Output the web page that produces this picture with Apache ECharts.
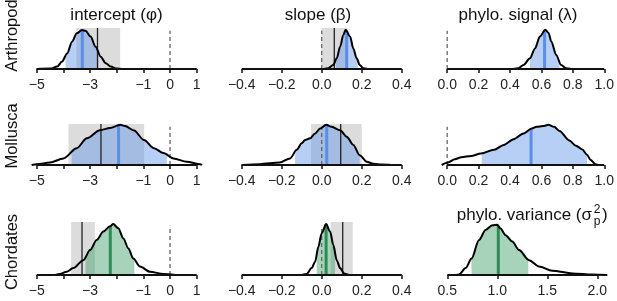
<!DOCTYPE html>
<html>
<head>
<meta charset="utf-8">
<script src="https://cdn.jsdelivr.net/npm/echarts@6/dist/echarts.min.js"></script>
<style>
html, body { margin: 0; padding: 0; background: #fff; }
#chart { width: 617px; height: 301px; }
</style>
</head>
<body>
<div id="chart"></div>
<script>
// rows / columns
var taxa = ['Arthropoda', 'Mollusca', 'Chordates'];
var paramTitles = ['intercept (φ)', 'slope (β)', 'phylo. signal (λ)'];

// posterior density curves (height relative to the top of each panel)
var arthInterceptX = [-5.0, -4.48, -4.23, -4.05, -3.86, -3.67, -3.5, -3.3, -3.17, -2.98, -2.79, -2.6, -2.41, -2.23, -2.0, -1.8];
var arthInterceptY = [0, 0.01, 0.06, 0.18, 0.38, 0.67, 0.87, 0.95, 0.93, 0.79, 0.54, 0.30, 0.14, 0.06, 0.01, 0];
var arthSlopeX = [0.01, 0.033, 0.058, 0.075, 0.092, 0.108, 0.12, 0.142, 0.158, 0.175, 0.19, 0.208, 0.23];
var arthSlopeY = [0, 0.02, 0.1, 0.26, 0.54, 0.83, 0.96, 0.79, 0.5, 0.26, 0.1, 0.02, 0];
var arthLambdaX = [0.42, 0.454, 0.486, 0.527, 0.559, 0.59, 0.625, 0.645, 0.663, 0.694, 0.725, 0.756, 0.79];
var arthLambdaY = [0, 0.02, 0.1, 0.26, 0.5, 0.79, 0.96, 0.88, 0.67, 0.34, 0.1, 0.02, 0];

var mollInterceptX = [-5.19, -5.0, -4.5, -4.0, -3.5, -3.12, -2.63, -2.25, -1.87, -1.69, -1.35, -0.98, -0.6, -0.25, 0.13, 0.63, 1.13, 1.2];
var mollInterceptY = [0, 0.02, 0.06, 0.16, 0.41, 0.65, 0.85, 0.9, 0.98, 0.95, 0.84, 0.61, 0.41, 0.29, 0.16, 0.08, 0.02, 0];
var mollSlopeX = [-0.4, -0.31, -0.21, -0.158, -0.125, -0.1, -0.083, -0.058, -0.033, -0.008, 0.022, 0.05, 0.092, 0.125, 0.158, 0.19, 0.225, 0.258, 0.3, 0.35];
var mollSlopeY = [0, 0.02, 0.06, 0.16, 0.37, 0.53, 0.61, 0.65, 0.77, 0.89, 0.98, 0.93, 0.85, 0.69, 0.49, 0.24, 0.08, 0.03, 0.01, 0];
var mollLambdaX = [-0.035, 0.006, 0.048, 0.09, 0.152, 0.215, 0.298, 0.36, 0.423, 0.486, 0.538, 0.569, 0.61, 0.645, 0.68, 0.715, 0.777, 0.82, 0.86, 0.89, 0.913, 0.944, 0.96];
var mollLambdaY = [0, 0.06, 0.14, 0.19, 0.22, 0.28, 0.37, 0.49, 0.63, 0.77, 0.89, 0.93, 0.95, 0.98, 0.93, 0.83, 0.6, 0.47, 0.38, 0.25, 0.12, 0.02, 0];

var chordInterceptX = [-4.3, -4.13, -3.88, -3.63, -3.25, -3.0, -2.75, -2.5, -2.25, -2.13, -1.94, -1.75, -1.56, -1.38, -1.13, -0.75, -0.25, 0.2];
var chordInterceptY = [0, 0.02, 0.06, 0.13, 0.28, 0.47, 0.66, 0.82, 0.92, 0.96, 0.88, 0.69, 0.5, 0.31, 0.16, 0.06, 0.02, 0];
var chordSlopeX = [-0.1, -0.075, -0.05, -0.033, -0.017, 0.0, 0.022, 0.042, 0.058, 0.075, 0.092, 0.112, 0.135];
var chordSlopeY = [0, 0.02, 0.13, 0.25, 0.53, 0.79, 0.96, 0.82, 0.57, 0.28, 0.13, 0.03, 0];
var chordVarianceX = [0.58, 0.617, 0.683, 0.743, 0.817, 0.883, 0.95, 1.0, 1.03, 1.083, 1.15, 1.217, 1.317, 1.417, 1.55, 1.75, 1.95, 2.1];
var chordVarianceY = [0, 0.01, 0.13, 0.31, 0.66, 0.85, 0.94, 0.95, 0.88, 0.75, 0.63, 0.47, 0.28, 0.16, 0.08, 0.03, 0.01, 0];

// panel summaries, row by row (null = not drawn)
var intervalLo = [-3.92, 0.07, 0.527, -3.69, -0.133, 0.22, -3.17, -0.025, 0.74];
var intervalHi = [-2.68, 0.18, 0.715, -0.12, 0.19, 0.89, -1.34, 0.067, 1.31];
var postMean   = [-3.29, 0.125, 0.62, -1.93, 0.025, 0.534, -2.24, 0.022, 1.01];
var bandLo     = [-3.51, -0.002, null, -3.81, -0.053, null, -3.71, 0.045, null];
var bandHi     = [-1.87, 0.128, null, -0.97, 0.2, null, -2.82, 0.155, null];
var otherEst   = [-2.72, 0.063, null, -2.59, 0.095, null, -3.3, 0.105, null];
var zeroLine   = [true, true, true, true, true, true, true, true, false];

// axis ticks / labels
var interceptTicks = [-5, -4, -3, -2, -1, 0, 1];
var interceptLabels = [-5, -3, -1, 0, 1];
var slopeTicks = [-0.4, -0.2, 0, 0.2, 0.4];
var lambdaTicks = [0, 0.2, 0.4, 0.6, 0.8, 1.0];
var varianceTicks = [0.5, 1.0, 1.5, 2.0];

var curvesX = [arthInterceptX, arthSlopeX, arthLambdaX, mollInterceptX, mollSlopeX, mollLambdaX, chordInterceptX, chordSlopeX, chordVarianceX];
var curvesY = [arthInterceptY, arthSlopeY, arthLambdaY, mollInterceptY, mollSlopeY, mollLambdaY, chordInterceptY, chordSlopeY, chordVarianceY];

var FONT = '"Liberation Sans", Arial, Helvetica, sans-serif';
var colLeft = [36.7, 241.7, 447.3];
var plotW = 160;
var rowTop = [28, 124, 222];
var rowH = [41, 41, 53];

function interpAt (xs, ys, x) {
  if (x <= xs[0]) return ys[0];
  for (var i = 1; i < xs.length; i++) {
    if (x <= xs[i]) {
      var t = (x - xs[i - 1]) / (xs[i] - xs[i - 1]);
      return ys[i - 1] + t * (ys[i] - ys[i - 1]);
    }
  }
  return ys[ys.length - 1];
}

function fmtNum (v, dec) {
  return v.toFixed(dec).replace('-', '\u2212');
}

function vline (grid, x, top, style, z) {
  return {
    type: 'line', xAxisIndex: grid, yAxisIndex: grid,
    data: [[x, 0], [x, top]], symbol: 'none', clip: false, silent: true,
    lineStyle: style, z: z
  };
}

function initChart () {
  var chart = echarts.init(document.getElementById('chart'), null, { renderer: 'canvas' });
  var grids = [], xAxes = [], yAxes = [], series = [];

  for (var i = 0; i < 9; i++) {
    var r = Math.floor(i / 3), c = i % 3;
    var lo, hi, ticks, labels, dec, axisEnd;
    if (c === 0) { lo = -5; hi = 1; ticks = interceptTicks; labels = interceptLabels; dec = 0; axisEnd = 1; }
    else if (c === 1) { lo = -0.4; hi = 0.4; ticks = slopeTicks; labels = slopeTicks; dec = 1; axisEnd = 0.4; }
    else if (r < 2) { lo = 0; hi = 1; ticks = lambdaTicks; labels = lambdaTicks; dec = 1; axisEnd = 1; }
    else { lo = 0.5; hi = 2.1; ticks = varianceTicks; labels = varianceTicks; dec = 1; axisEnd = 2.0; }
    var ext = 0.04 * (hi - lo);

    grids.push({ left: colLeft[c] - 0.04 * plotW, top: rowTop[r], width: plotW * 1.08, height: rowH[r] });
    xAxes.push({
      type: 'value', gridIndex: i, min: lo - ext, max: hi + ext,
      axisLine: { show: false },
      splitLine: { show: false },
      axisTick: { show: true, customValues: ticks, length: 4, lineStyle: { color: '#111', width: 1.5 } },
      axisLabel: {
        customValues: labels, margin: 9, fontSize: 14, color: '#222', fontFamily: FONT,
        formatter: (function (d) { return function (v) { return fmtNum(v, d); }; })(dec)
      }
    });
    yAxes.push({ type: 'value', gridIndex: i, min: 0, max: 1, show: false });

    var xs = curvesX[i], ys = curvesY[i];
    var green = r === 2;
    var lineCol = green ? '#2e8b57' : '#5b8ee6';
    var fillCol = green ? 'rgba(46,150,90,0.42)' : 'rgba(96,146,232,0.45)';

    // grey band of the other estimate
    if (bandLo[i] !== null) {
      series.push({
        type: 'line', xAxisIndex: i, yAxisIndex: i, symbol: 'none', silent: true, clip: false,
        data: [[bandLo[i], 1], [bandHi[i], 1]],
        lineStyle: { width: 0 }, areaStyle: { color: '#dcdcdc', opacity: 1 }, z: 1
      });
    }
    // credible interval fill
    var pts = [[intervalLo[i], interpAt(xs, ys, intervalLo[i])]];
    for (var k = 0; k < xs.length; k++) {
      if (xs[k] > intervalLo[i] && xs[k] < intervalHi[i]) pts.push([xs[k], ys[k]]);
    }
    pts.push([intervalHi[i], interpAt(xs, ys, intervalHi[i])]);
    series.push({
      type: 'line', xAxisIndex: i, yAxisIndex: i, symbol: 'none', silent: true, clip: false,
      data: pts, smooth: 0.3, smoothMonotone: 'x',
      lineStyle: { width: 0 }, areaStyle: { color: fillCol, opacity: 1 }, z: 2
    });
    if (zeroLine[i]) {
      series.push(vline(i, 0, 0.93, { color: '#666', width: 1.3, type: [4, 3] }, 3));
    }
    if (otherEst[i] !== null) {
      series.push(vline(i, otherEst[i], 1, { color: '#222', width: 1.3 }, 4));
    }
    series.push(vline(i, postMean[i], interpAt(xs, ys, postMean[i]), { color: lineCol, width: 3 }, 4));

    // density curve
    series.push({
      type: 'line', xAxisIndex: i, yAxisIndex: i, symbol: 'none', silent: true, clip: false,
      data: xs.map(function (x, k) { return [x, ys[k]]; }), smooth: 0.3, smoothMonotone: 'x',
      lineStyle: { color: '#000', width: 2 }, z: 5
    });
    // axis line spanning the ticks
    series.push({
      type: 'line', xAxisIndex: i, yAxisIndex: i, symbol: 'none', silent: true, clip: false,
      data: [[lo, 0], [axisEnd, 0]], lineStyle: { color: '#111', width: 2 }, z: 5
    });
  }

  var titleStyle = { fontSize: 17, fill: '#111', fontFamily: FONT, align: 'center', verticalAlign: 'middle' };
  var titleX = [116.5, 318, 518];
  var graphics = [];
  for (var j = 0; j < 3; j++) {
    graphics.push({ type: 'text', x: titleX[j], y: 15, style: Object.assign({ text: paramTitles[j] }, titleStyle) });
  }
  // phylo. variance (sigma^2_p)
  graphics.push({ type: 'text', x: 592, y: 215, style: { text: 'phylo. variance (σ', fontSize: 17, fill: '#111', fontFamily: FONT, align: 'right', verticalAlign: 'middle' } });
  graphics.push({ type: 'text', x: 597, y: 210, style: { text: '2', fontSize: 12, fill: '#111', fontFamily: FONT, align: 'center', verticalAlign: 'middle' } });
  graphics.push({ type: 'text', x: 597, y: 222, style: { text: 'p', fontSize: 12, fill: '#111', fontFamily: FONT, align: 'center', verticalAlign: 'middle' } });
  graphics.push({ type: 'text', x: 602, y: 215, style: { text: ')', fontSize: 17, fill: '#111', fontFamily: FONT, align: 'left', verticalAlign: 'middle' } });

  var labelY = [31, 136, 252];
  for (var t = 0; t < 3; t++) {
    graphics.push({
      type: 'text', x: 12, y: labelY[t], rotation: Math.PI / 2,
      style: { text: taxa[t], fontSize: 16.5, fill: '#111', fontFamily: FONT, align: 'center', verticalAlign: 'middle' }
    });
  }

  chart.setOption({
    animation: false,
    backgroundColor: '#fff',
    grid: grids,
    xAxis: xAxes,
    yAxis: yAxes,
    series: series,
    graphic: graphics
  });
}

initChart();
</script>
</body>
</html>
